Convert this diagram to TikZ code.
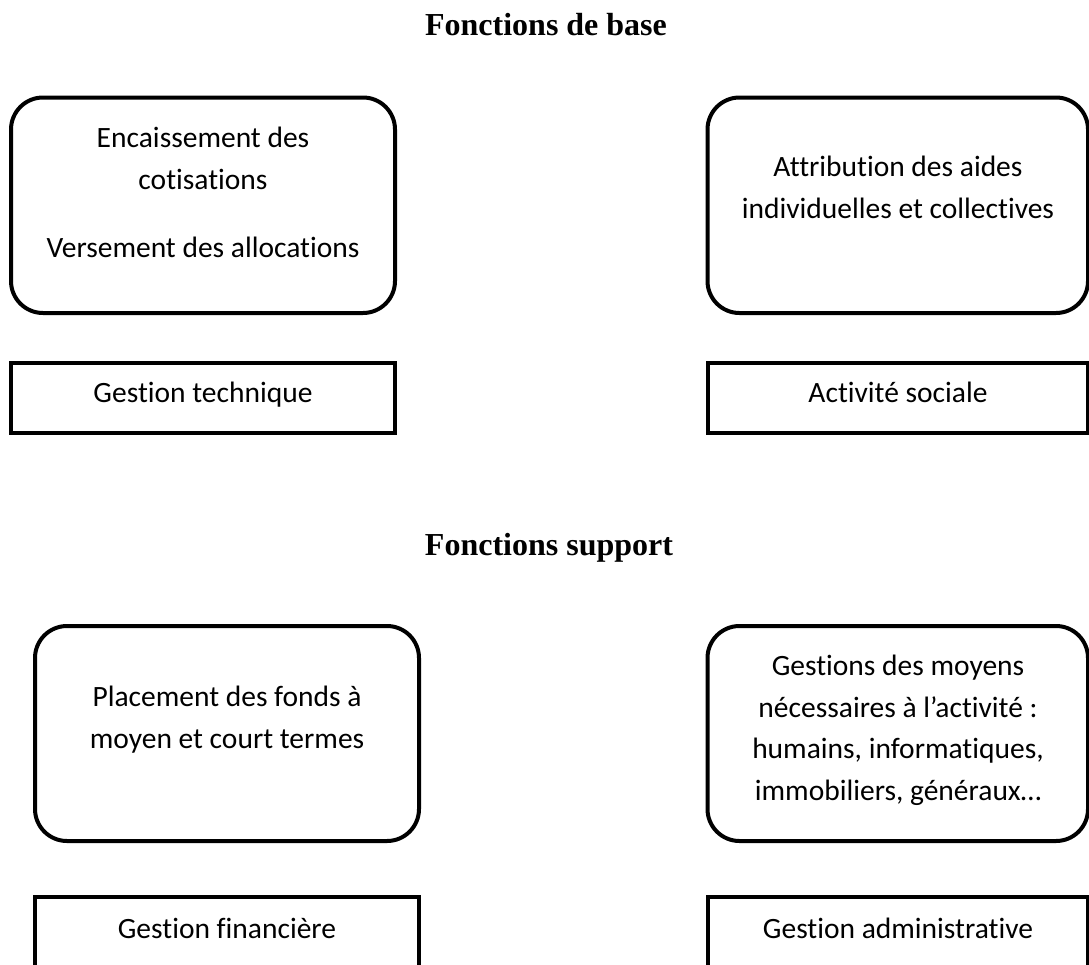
\documentclass[tikz,border=0pt]{standalone}
\usepackage{fontspec}
\setmainfont{Carlito}[Ligatures=NoCommon]
\newfontfamily\titlefont{Liberation Serif}
\begin{document}
\begin{tikzpicture}[x=1pt,y=-1pt,
  rbox/.style={draw, line width=4pt, rounded corners=32pt, inner sep=0pt, outer sep=0pt},
  sbox/.style={draw, line width=4pt, inner sep=0pt, outer sep=0pt},
  body/.style={font=\fontsize{29.5}{41.5}\selectfont, align=center, anchor=base, inner sep=0pt},
  heading/.style={font=\titlefont\bfseries\fontsize{32}{38}\selectfont, anchor=base, inner sep=0pt}]
\useasboundingbox (0,0) rectangle (1089,964);
\clip (0,0) rectangle (1089,964);

% headings
\node[heading] (h1) at (546,35) {Fonctions de base};
\node[heading] (h2) at (549,555) {Fonctions support};

% boxes
\node[rbox, minimum width=384pt, minimum height=215.5pt] (b1) at (203,205.25) {};
\node[sbox, minimum width=384pt, minimum height=70pt] (r1) at (203,397.5) {};
\node[rbox, minimum width=380.5pt, minimum height=215.5pt] (b2) at (897.75,205.25) {};
\node[sbox, minimum width=380.5pt, minimum height=70pt] (r2) at (897.75,397.5) {};
\node[rbox, minimum width=384pt, minimum height=215pt] (b3) at (227,733.5) {};
\node[sbox, minimum width=384pt, minimum height=70pt] (r3) at (227,932) {};
\node[rbox, minimum width=380.5pt, minimum height=215pt] (b4) at (897.75,733.5) {};
\node[sbox, minimum width=380.5pt, minimum height=70pt] (r4) at (897.75,932) {};

% texts (anchor=base is the baseline of the last line)
\node[body] (t1) at (203,257) {Encaissement des\\cotisations\\[26.5pt]Versement des allocations};
\node[body] (t2) at (203,402) {Gestion technique};
\node[body] (t3) at (898,218) {Attribution des aides\\individuelles et collectives};
\node[body] (t4) at (898,402) {Activité sociale};
\node[body] (t5) at (227,748) {Placement des fonds à\\moyen et court termes};
\node[body] (t6) at (227,938) {Gestion financière};
\node[body] (t7) at (898,800) {Gestions des moyens\\nécessaires à l’activité :\\humains, informatiques,\\immobiliers, généraux…};
\node[body] (t8) at (898,938) {Gestion administrative};
\end{tikzpicture}
\end{document}
